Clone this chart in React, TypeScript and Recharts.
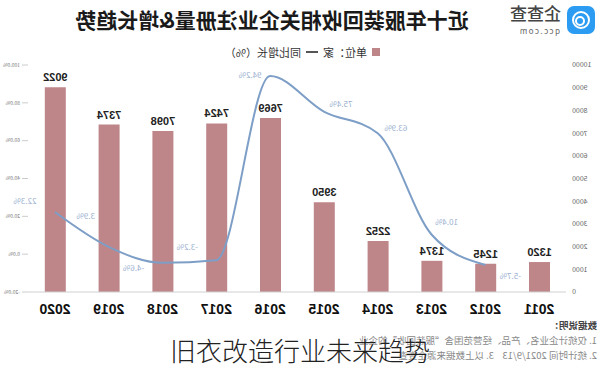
import React from 'react';
import { ComposedChart, Bar, Line, XAxis, YAxis, LabelList } from 'recharts';

const years = ['2011', '2012', '2013', '2014', '2015', '2016', '2017', '2018', '2019', '2020'];
const registrations = [1320, 1245, 1374, 2252, 3950, 7669, 7424, 7098, 7374, 9022];
const growth: (number | null)[] = [null, -5.7, 10.4, 63.9, 75.4, 94.2, -3.2, -4.6, 3.9, 22.3];
const countTicks = [0, 1000, 2000, 3000, 4000, 5000, 6000, 7000, 8000, 9000, 10000];
const pctTicks = [-20, 0, 20, 40, 60, 80, 100];

// label offsets for the growth line (drawn before mirroring)
const growthLabelOffsets: [number, number][] = [
  [0, 0], [-25, 12], [-15, -12], [-18, -4], [-17, -7], [20, 0], [29, -12], [29, 6], [23, -30], [30, -10],
];

const BAR = '#bf868a';
const LINE = '#7d9ec6';

const data = years.map((y, i) => ({ year: y, count: registrations[i], growth: growth[i] }));

const GrowthLabel = (props: any) => {
  const { x, y, index, value } = props;
  if (value == null) return null;
  const [dx, dy] = growthLabelOffsets[index];
  return (
    <text x={x + dx} y={y + dy} textAnchor="middle" dominantBaseline="middle" fontSize={8} fill="#9bb1d0">
      {value.toFixed(1) + '%'}
    </text>
  );
};

const App = () => {
  return (
    <div style={{ position: 'fixed', top: 0, left: 0, width: 600, height: 369, background: '#fff', overflow: 'hidden' }}>
      <div style={{ position: 'absolute', top: 0, left: 0, width: 600, height: 369, transform: 'scaleX(-1)', fontFamily: '"Noto Sans CJK SC", "Noto Sans", sans-serif' }}>
        {/* logo */}
        <div style={{ position: 'absolute', left: 5, top: 6, width: 28, height: 28, borderRadius: 7, background: '#2b9cf2' }}>
          <div style={{ position: 'absolute', left: 5, top: 5, width: 14, height: 14, border: '2px solid #fff', borderRadius: '50%' }} />
          <div style={{ position: 'absolute', left: 10, top: 10, width: 6, height: 6, border: '2px solid #fff', borderRadius: '50%' }} />
        </div>
        <div style={{ position: 'absolute', left: 39, top: 2, fontSize: 17, color: '#444', fontWeight: 500, lineHeight: '22px' }}>企查查</div>
        <div style={{ position: 'absolute', left: 40, top: 26, fontSize: 8, color: '#666', letterSpacing: 1.5, lineHeight: '10px' }}>qcc.com</div>
        {/* title */}
        <div style={{ position: 'absolute', left: 118, top: 5, width: 420, textAlign: 'center', fontSize: 21, fontWeight: 700, color: '#1a1a1a', lineHeight: '28px', whiteSpace: 'nowrap' }}>
          近十年服装回收相关企业注册量&amp;增长趋势
        </div>
        {/* legend */}
        <div style={{ position: 'absolute', left: 220, top: 44, fontSize: 11, color: '#333', lineHeight: '16px', whiteSpace: 'nowrap', display: 'flex', alignItems: 'center' }}>
          <span style={{ display: 'inline-block', width: 8, height: 8, background: BAR, marginRight: 5 }} />
          <span>单位：家</span>
          <span style={{ display: 'inline-block', width: 12, height: 2, background: '#555', margin: '0 5px' }} />
          <span>同比增长（%）</span>
        </div>
        <div style={{ position: 'absolute', left: 0, top: 0 }}>
          <ComposedChart width={600} height={322} data={data} margin={{ top: 65, right: 0, bottom: 0, left: 0 }} barCategoryGap={0}>
            <XAxis
              dataKey="year"
              height={30}
              tickLine={false}
              axisLine={{ stroke: '#d0d0d0' }}
              tickMargin={6}
              tick={{ fontSize: 14, fontWeight: 700, fill: '#111', fontFamily: '"Liberation Sans", Arial, sans-serif' }}
              interval={0}
            />
            <YAxis
              yAxisId="left"
              width={34}
              domain={[0, 10000]}
              ticks={countTicks}
              axisLine={false}
              tickLine={false}
              tickSize={0}
              tickMargin={6}
              tick={{ fontSize: 7, fill: '#666' }}
            />
            <YAxis
              yAxisId="right"
              orientation="right"
              width={28}
              domain={[-20, 100]}
              ticks={pctTicks}
              axisLine={false}
              tickLine={{ stroke: '#ccc' }}
              tickSize={6}
              tickMargin={2}
              tickFormatter={(v: number) => v.toFixed(1) + '%'}
              tick={{ fontSize: 5, fill: '#777' }}
            />
            <Bar yAxisId="left" dataKey="count" fill={BAR} barSize={21} isAnimationActive={false}>
              <LabelList dataKey="count" position="top" offset={6} style={{ fontSize: 11, fontWeight: 700, fill: '#222', fontFamily: '"Liberation Sans", Arial, sans-serif' }} />
            </Bar>
            <Line
              yAxisId="right"
              type="monotone"
              dataKey="growth"
              stroke={LINE}
              strokeWidth={2}
              dot={false}
              connectNulls={false}
              isAnimationActive={false}
            >
              <LabelList dataKey="growth" content={<GrowthLabel />} />
            </Line>
          </ComposedChart>
        </div>
        {/* footnote */}
        <div style={{ position: 'absolute', left: 3, top: 318, fontSize: 9.5, color: '#888', lineHeight: '15px', whiteSpace: 'nowrap' }}>
          <div style={{ color: '#444', fontWeight: 700 }}>数据说明：</div>
          <div>1. 仅统计企业名、产品、经营范围含“服装回收”的企业</div>
          <div>2. 统计时间 2021/9/13&nbsp;&nbsp;&nbsp;&nbsp;3. 以上数据来源企查查</div>
        </div>
      </div>
      <div style={{ position: 'absolute', left: 170, top: 334, fontSize: 26, fontWeight: 300, lineHeight: '32px', color: '#222', whiteSpace: 'nowrap', fontFamily: '"Noto Sans CJK SC", sans-serif', textShadow: '0 0 2px #fff' }}>
        旧衣改造行业未来趋势
      </div>
    </div>
  );
};

export default App;
